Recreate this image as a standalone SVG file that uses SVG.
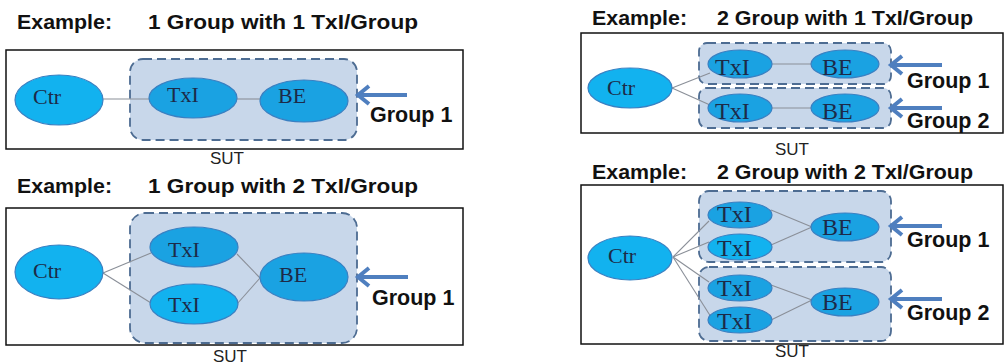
<svg xmlns="http://www.w3.org/2000/svg" width="1005" height="364" viewBox="0 0 1005 364">
<style>
.title{font-family:"Liberation Sans",Arial,sans-serif;font-weight:bold;font-size:21px;fill:#111}
.glabel{font-family:"Liberation Sans",Arial,sans-serif;font-weight:bold;font-size:21.5px;fill:#111}
.sut{font-family:"Liberation Sans",Arial,sans-serif;font-size:17px;fill:#222}
.box{fill:#fff;stroke:#111;stroke-width:1.5}
.grp{fill:#c8d7ea;stroke:#4d6c92;stroke-width:1.8;stroke-dasharray:9 5}
.ctr{fill:#12b2ef;stroke:#3a80c2;stroke-width:1.2}
.node{fill:#1aa2e2;stroke:#3a80c2;stroke-width:1.2}
.nt{font-family:"Liberation Serif","Times New Roman",serif;font-size:22px;fill:#1d2a48}
.nts{font-family:"Liberation Serif","Times New Roman",serif;font-size:24px;fill:#1d2a48}
.conn line{stroke:#8a8f98;stroke-width:1.1}
.arr{stroke:#4f7fbf;stroke-width:4;fill:none;stroke-linecap:butt}
</style>

<!-- Panel A -->
<text class="title" x="17" y="29" textLength="95" lengthAdjust="spacingAndGlyphs">Example:</text>
<text class="title" x="148" y="29" textLength="270" lengthAdjust="spacingAndGlyphs">1 Group with 1 TxI/Group</text>
<rect class="box" x="6" y="50" width="457" height="99"/>
<rect class="grp" x="130" y="59" width="227" height="81" rx="13"/>
<g class="conn">
<line x1="103" y1="99" x2="149" y2="99"/>
<line x1="237" y1="99" x2="260" y2="99"/>
</g>
<g id="a-ctr"><ellipse class="ctr" cx="59" cy="100" rx="44" ry="25"/><text class="nt" x="33" y="104">Ctr</text></g>
<g id="a-txi"><ellipse class="node" cx="193" cy="98" rx="44" ry="20"/><text class="nt" x="167" y="102">TxI</text></g>
<g id="a-be"><ellipse class="node" cx="304" cy="101" rx="44" ry="21"/><text class="nt" x="278" y="103">BE</text></g>
<g id="a-arrow"><line class="arr" x1="407" y1="95" x2="359" y2="95"/><polyline class="arr" points="369,86 358,95 369,104"/></g>
<text class="glabel" x="370" y="122">Group 1</text>
<text class="sut" x="210" y="164">SUT</text>

<!-- Panel B -->
<text class="title" x="17" y="193" textLength="95" lengthAdjust="spacingAndGlyphs">Example:</text>
<text class="title" x="148" y="193" textLength="270" lengthAdjust="spacingAndGlyphs">1 Group with 2 TxI/Group</text>
<rect class="box" x="6" y="208" width="457" height="137"/>
<rect class="grp" x="130" y="213" width="227" height="130" rx="15"/>
<g class="conn">
<line x1="103" y1="273" x2="151" y2="253"/>
<line x1="103" y1="273" x2="151" y2="303"/>
<line x1="237" y1="254" x2="260" y2="278"/>
<line x1="237" y1="304" x2="260" y2="278"/>
</g>
<g id="b-ctr"><ellipse class="ctr" cx="59" cy="272" rx="44" ry="27"/><text class="nt" x="33" y="278">Ctr</text></g>
<g id="b-txi1"><ellipse class="node" cx="194" cy="247" rx="44" ry="20"/><text class="nt" x="168" y="257">TxI</text></g>
<g id="b-txi2"><ellipse class="ctr" cx="194" cy="304" rx="44" ry="20"/><text class="nt" x="168" y="312">TxI</text></g>
<g id="b-be"><ellipse class="node" cx="304" cy="277" rx="44" ry="24"/><text class="nt" x="279" y="282">BE</text></g>
<g id="b-arrow"><line class="arr" x1="408" y1="277" x2="359" y2="277"/><polyline class="arr" points="369,268 358,277 369,286"/></g>
<text class="glabel" x="372" y="305">Group 1</text>
<text class="sut" x="213" y="362">SUT</text>

<!-- Panel C -->
<text class="title" x="592" y="25" textLength="95" lengthAdjust="spacingAndGlyphs">Example:</text>
<text class="title" x="717" y="25" textLength="256" lengthAdjust="spacingAndGlyphs">2 Group with 1 TxI/Group</text>
<rect class="box" x="581" y="33" width="422" height="100"/>
<rect class="grp" x="699" y="43" width="192" height="41" rx="8"/>
<rect class="grp" x="699" y="88" width="192" height="40" rx="8"/>
<g class="conn">
<line x1="672" y1="88" x2="710" y2="73"/>
<line x1="672" y1="88" x2="710" y2="105"/>
<line x1="772" y1="64" x2="811" y2="64"/>
<line x1="772" y1="108" x2="811" y2="108"/>
</g>
<g id="c-ctr"><ellipse class="ctr" cx="630" cy="88" rx="42" ry="20"/><text class="nt" x="607" y="95">Ctr</text></g>
<g id="c-txi1"><ellipse class="node" cx="740" cy="64" rx="32" ry="14"/><text class="nts" x="715" y="75">TxI</text></g>
<g id="c-be1"><ellipse class="node" cx="845" cy="64" rx="34" ry="14"/><text class="nts" x="822" y="75">BE</text></g>
<g id="c-txi2"><ellipse class="node" cx="740" cy="108" rx="32" ry="14"/><text class="nts" x="715" y="119">TxI</text></g>
<g id="c-be2"><ellipse class="node" cx="845" cy="108" rx="34" ry="14"/><text class="nts" x="822" y="119">BE</text></g>
<g id="c-arrow1"><line class="arr" x1="942" y1="65" x2="892" y2="65"/><polyline class="arr" points="902,56 891,65 902,74"/></g>
<g id="c-arrow2"><line class="arr" x1="942" y1="108" x2="892" y2="108"/><polyline class="arr" points="902,99 891,108 902,117"/></g>
<text class="glabel" x="907" y="88">Group 1</text>
<text class="glabel" x="907" y="128">Group 2</text>
<text class="sut" x="775" y="155">SUT</text>

<!-- Panel D -->
<text class="title" x="592" y="179" textLength="95" lengthAdjust="spacingAndGlyphs">Example:</text>
<text class="title" x="717" y="179" textLength="256" lengthAdjust="spacingAndGlyphs">2 Group with 2 TxI/Group</text>
<rect class="box" x="581" y="185" width="422" height="159"/>
<rect class="grp" x="699" y="191" width="192" height="71" rx="10"/>
<rect class="grp" x="699" y="267" width="192" height="74" rx="10"/>
<g class="conn">
<line x1="673" y1="257" x2="709" y2="221"/>
<line x1="673" y1="257" x2="709" y2="242"/>
<line x1="673" y1="257" x2="709" y2="282"/>
<line x1="673" y1="257" x2="711" y2="317"/>
<line x1="771" y1="210" x2="812" y2="227"/>
<line x1="771" y1="245" x2="812" y2="227"/>
<line x1="771" y1="285" x2="812" y2="300"/>
<line x1="771" y1="320" x2="812" y2="300"/>
</g>
<g id="d-ctr"><ellipse class="ctr" cx="630" cy="258" rx="42" ry="22"/><text class="nt" x="608" y="263">Ctr</text></g>
<g id="d-txi1"><ellipse class="node" cx="740" cy="215" rx="32" ry="13"/><text class="nts" x="717" y="222">TxI</text></g>
<g id="d-txi2"><ellipse class="ctr" cx="740" cy="247" rx="32" ry="13"/><text class="nts" x="717" y="256">TxI</text></g>
<g id="d-be1"><ellipse class="node" cx="845" cy="227" rx="34" ry="14"/><text class="nts" x="822" y="235">BE</text></g>
<g id="d-txi3"><ellipse class="node" cx="740" cy="288" rx="32" ry="13"/><text class="nts" x="717" y="296">TxI</text></g>
<g id="d-txi4"><ellipse class="node" cx="740" cy="320" rx="32" ry="13"/><text class="nts" x="717" y="329">TxI</text></g>
<g id="d-be2"><ellipse class="node" cx="845" cy="302" rx="34" ry="14"/><text class="nts" x="822" y="310">BE</text></g>
<g id="d-arrow1"><line class="arr" x1="942" y1="226" x2="892" y2="226"/><polyline class="arr" points="902,217 891,226 902,235"/></g>
<g id="d-arrow2"><line class="arr" x1="942" y1="299" x2="892" y2="299"/><polyline class="arr" points="902,290 891,299 902,308"/></g>
<text class="glabel" x="907" y="247">Group 1</text>
<text class="glabel" x="907" y="320">Group 2</text>
<text class="sut" x="775" y="357">SUT</text>
</svg>
